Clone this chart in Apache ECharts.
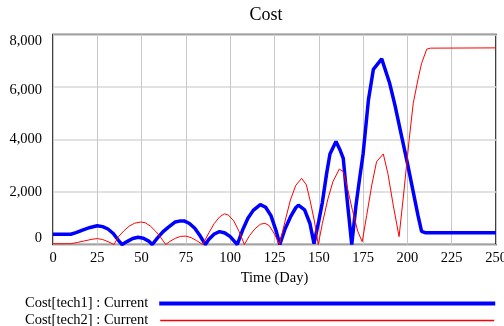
<!DOCTYPE html>
<html>
<head>
<meta charset="utf-8">
<script src="https://cdn.jsdelivr.net/npm/echarts@6/dist/echarts.min.js"></script>
<style>
html,body{margin:0;padding:0;background:#fff;}
#c{width:504px;height:326px;}
</style>
</head>
<body>
<div id="c"></div>
<script>
const titleText = 'Cost';
const xAxisName = 'Time (Day)';
const seriesNames = ['Cost[tech1] : Current', 'Cost[tech2] : Current'];
const xTicks = [0, 25, 50, 75, 100, 125, 150, 175, 200, 225, 250];
const yTicks = [0, 2000, 4000, 6000, 8000];

const tech1Days = [0,10,13,17,21,25,28,31,34,37,39,42,45,48,51,54,56,59,62,65,69,72,74,77,80,83,86,88,91,94,97,100,102,104,107,110,113,117,120,123,126,128,131,134,137,138.5,142,145,147.3,150,152,154.4,156.3,159.7,162,163.8,166,168.6,171,173,175,178,180.8,185.5,190,193,196.8,200,203,206,208,210,250];
const tech1Values = [390,390,450,560,650,716,680,590,420,150,0,120,230,274,240,130,0,250,480,650,860,900,900,800,620,330,0,200,400,490,440,300,150,0,550,1000,1300,1520,1420,1100,500,0,600,1050,1400,1500,1320,800,30,900,1600,2700,3450,3920,3600,3280,1700,0,1500,2500,3450,5500,6675,7070,6140,5300,4100,3100,2100,1100,500,450,450];

const tech2Days = [0,10,14,18,22,25,28,31,34.4,37,40,43,46,49.5,52,55,58,61,63.6,66,69,72,75,78,81,84.5,88,91,94,96.7,99,102,105,108,111,114,117,119.6,122,125,127.8,131,134,137,140.3,143,145,147.5,149.7,152,155,158,161.6,163.8,166,169,172,174.5,177,180,182.6,186.4,189,192,195.3,198,201,203.3,206,208,210.9,213,250];
const tech2Values = [30,30,80,140,200,225,190,110,0,300,520,700,810,857,830,700,500,250,0,120,235,310,320,260,150,0,450,800,1050,1170,1120,900,500,0,350,600,770,808,720,400,0,900,1700,2250,2520,2270,1700,900,0,800,1700,2400,2875,2775,2200,1300,500,107,1100,2300,3155,3450,2700,1500,300,2000,4000,5380,6300,6900,7440,7480,7490];

const zip = (a, b) => a.map((d, i) => [d, b[i]]);
const fontFam = '"Liberation Serif", "DejaVu Serif", serif';
const fs = 14.5;

const chart = echarts.init(document.getElementById('c'), null, {renderer: 'canvas'});
chart.setOption({
  animation: false,
  backgroundColor: '#fff',
  title: {
    text: titleText,
    left: 261, top: 1, textAlign: 'center',
    textStyle: {fontFamily: fontFam, fontSize: 18, fontWeight: 'normal', color: '#000'}
  },
  legend: [
    {
      data: [seriesNames[0]], left: 20, top: 291, orient: 'vertical', align: 'right',
      icon: 'rect', itemWidth: 336, itemHeight: 4,
      textStyle: {fontFamily: fontFam, fontSize: fs, color: '#000', padding: [0, 6, 0, 0]}
    },
    {
      data: [seriesNames[1]], left: 20, top: 308, orient: 'vertical', align: 'right',
      icon: 'rect', itemWidth: 334, itemHeight: 1.5,
      textStyle: {fontFamily: fontFam, fontSize: fs, color: '#000', padding: [0, 7, 0, 0]}
    }
  ],
  grid: {left: 53, right: 8, top: 34.5, bottom: 81.5, show: true, borderColor: '#000', borderWidth: 1.5, containLabel: false, outerBoundsMode: 'none'},
  xAxis: {
    type: 'value', min: xTicks[0], max: xTicks[xTicks.length - 1], interval: 25,
    name: xAxisName, nameLocation: 'middle', nameGap: 20,
    nameTextStyle: {fontFamily: fontFam, fontSize: fs, color: '#000'},
    axisLine: {show: false}, axisTick: {show: false},
    axisLabel: {fontFamily: fontFam, fontSize: fs, color: '#000', margin: 6},
    splitLine: {show: true, lineStyle: {color: '#c8c8c8', width: 1}}
  },
  yAxis: {
    type: 'value', min: yTicks[0], max: yTicks[yTicks.length - 1], interval: 2000,
    axisLine: {show: false}, axisTick: {show: false},
    axisLabel: {
      fontFamily: fontFam, fontSize: fs, color: '#000', margin: 11,
      formatter: v => {
        const s = v.toLocaleString('en-US');
        if (v === yTicks[yTicks.length - 1]) return '{t|' + s + '}';
        if (v === yTicks[0]) return '{b|' + s + '}';
        if (v === 6000) return '{s|' + s + '}';
        return s;
      },
      rich: {
        t: {fontFamily: fontFam, fontSize: fs, color: '#000', padding: [14, 0, 0, 0]},
        s: {fontFamily: fontFam, fontSize: fs, color: '#000', padding: [6, 0, 0, 0]},
        b: {fontFamily: fontFam, fontSize: fs, color: '#000', padding: [0, 0, 12, 0]}
      }
    },
    splitLine: {show: true, lineStyle: {color: '#d8d8d8', width: 1.5}}
  },
  series: [
    {
      name: seriesNames[0], type: 'line', data: zip(tech1Days, tech1Values),
      showSymbol: false, symbol: 'none', color: '#0000ff',
      lineStyle: {color: '#0000ff', width: 3.5}, z: 3
    },
    {
      name: seriesNames[1], type: 'line', data: zip(tech2Days, tech2Values),
      showSymbol: false, symbol: 'none', color: '#ff0000',
      lineStyle: {color: '#ff0000', width: 1}, z: 4
    }
  ]
});
</script>
</body>
</html>
